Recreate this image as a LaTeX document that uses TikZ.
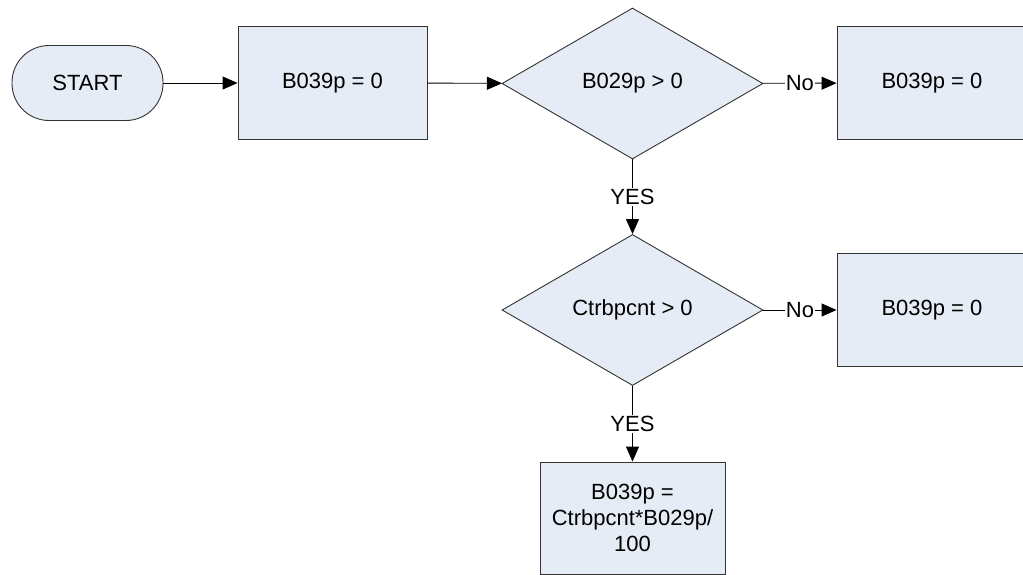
\documentclass[tikz,border=0pt]{standalone}
\usepackage{fontspec}
\setmainfont{Liberation Sans}
\usetikzlibrary{arrows.meta,shapes.geometric}

\definecolor{flowfill}{HTML}{E6ECF6}
\definecolor{flowline}{HTML}{333333}

\tikzset{
  proc/.style={draw=flowline,fill=flowfill,line width=0.9pt,minimum width=189pt,minimum height=113pt,inner sep=0pt,align=center},
  decide/.style={diamond,draw=flowline,fill=flowfill,line width=0.9pt,minimum width=261pt,minimum height=151pt,aspect=1.73,inner sep=0pt},
  term/.style={draw=flowline,fill=flowfill,line width=0.9pt,rounded corners=37pt,minimum width=151pt,minimum height=75pt,inner sep=0pt},
  flow/.style={line width=0.9pt,-{Triangle[length=15pt,width=13pt]}},
  tag/.style={fill=white,inner sep=1pt}
}

\begin{document}
\begin{tikzpicture}[x=1pt,y=-1pt,font=\fontsize{22}{26}\selectfont]

\useasboundingbox (0,0) rectangle (1023,575);

% top row
\node[term] (start) at (87.5,83) {START};
\node[proc] (init) at (332.5,83) {B039p = 0};
\node[decide] (chkB) at (632.5,83.5) {B029p > 0};
\node[proc,minimum width=190pt] (setB) at (932,83) {B039p = 0};

% second decision
\node[decide] (chkC) at (632.5,310) {Ctrbpcnt > 0};
\node[proc,minimum width=190pt] (setC) at (932,310) {B039p = 0};

% result
\node[proc,minimum width=185pt,minimum height=112pt] (calc) at (632.5,518) {B039p =\\Ctrbpcnt*B029p/\\100};

% connectors
\draw[flow] (start) -- (init);
\draw[flow] (init) -- (chkB);
\draw[flow] (chkB) -- node[tag] {No} (setB);
\draw[flow] (chkB) -- node[tag] {YES} (chkC);
\draw[flow] (chkC) -- node[tag] {No} (setC);
\draw[flow] (chkC) -- node[tag] {YES} (calc);

\end{tikzpicture}
\end{document}
